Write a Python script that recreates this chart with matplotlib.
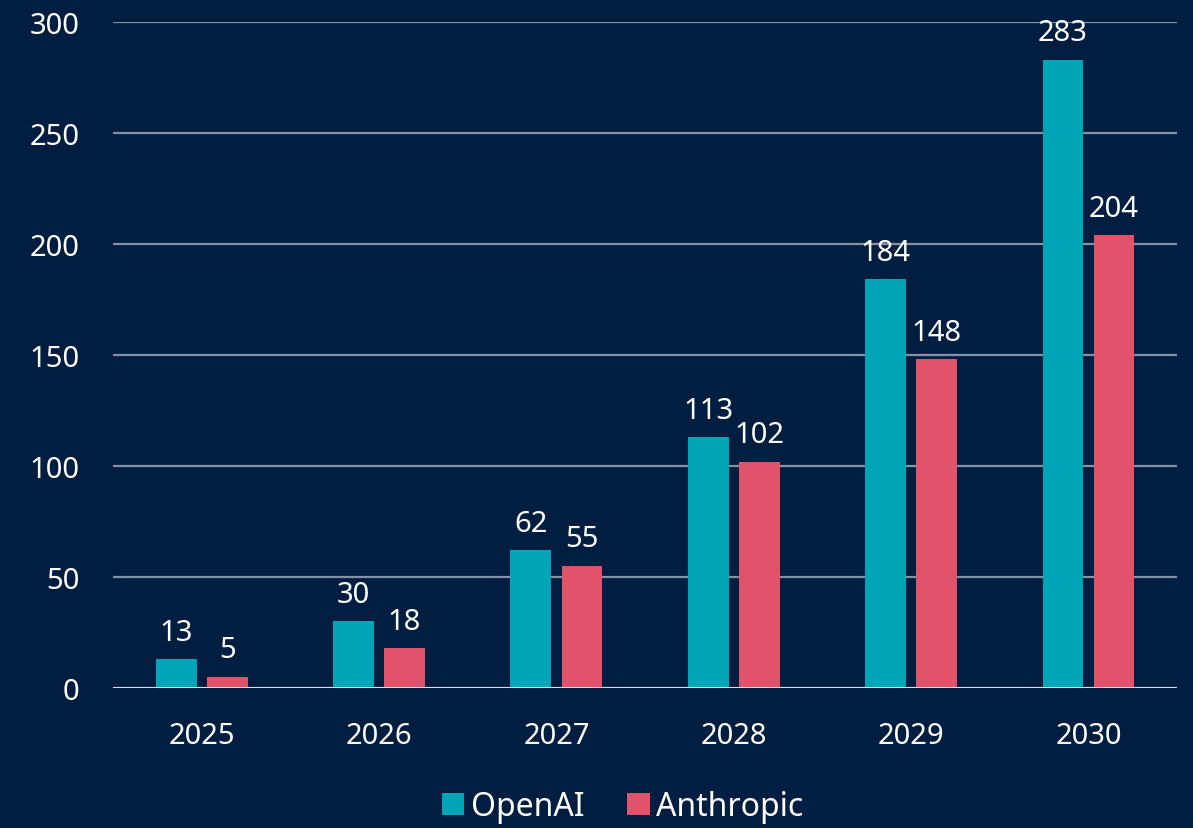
import matplotlib.pyplot as plt
import numpy as np

plt.rcParams['font.family'] = ['Noto Sans', 'DejaVu Sans']

years = ["2025", "2026", "2027", "2028", "2029", "2030"]
openai = [13, 30, 62, 113, 184, 283]
anthropic = [5, 18, 55, 102, 148, 204]
yticks = [0, 50, 100, 150, 200, 250, 300]

bg = "#011e41"
teal = "#00a5b8"
pink = "#e0536b"

fig = plt.figure(figsize=(11.93, 8.29), dpi=100, facecolor=bg)
ax = fig.add_axes([0.0947, 0.1689, 0.892, 0.8034], facecolor=bg)

x = np.arange(len(years))
w = 0.23
off = 0.144
b1 = ax.bar(x - off, openai, w, color=teal, label="OpenAI", zorder=3)
b2 = ax.bar(x + off, anthropic, w, color=pink, label="Anthropic", zorder=3)

for bars, vals in ((b1, openai), (b2, anthropic)):
    for r, v in zip(bars, vals):
        ax.annotate(str(v), (r.get_x() + r.get_width() / 2, v),
                    xytext=(0, 9), textcoords="offset points",
                    ha="center", va="bottom", color="white", fontsize=21,
                    annotation_clip=False)

ax.set_xlim(-0.5, len(years) - 0.5)
ax.set_ylim(0, 300)
ax.set_xticks(x)
ax.set_xticklabels(years)
ax.set_yticks(yticks)
ax.tick_params(axis="both", length=0, colors="white", labelsize=21)
ax.tick_params(axis="x", pad=24)
ax.tick_params(axis="y", pad=24)
ax.yaxis.grid(True, color="#8592a6", lw=1.6, zorder=0)
for s in ax.spines.values():
    s.set_visible(False)
ax.axhline(0, color="#e4e8ee", lw=2, zorder=4)

leg = fig.legend(handles=[b1, b2], loc="lower center", ncol=2,
                 bbox_to_anchor=(0.522, -0.029), frameon=False,
                 fontsize=23, handlelength=0.7, handleheight=0.7,
                 handletextpad=0.2, columnspacing=1.35)
for t in leg.get_texts():
    t.set_color("white")

fig.savefig("out.png", dpi=100, facecolor=bg)
